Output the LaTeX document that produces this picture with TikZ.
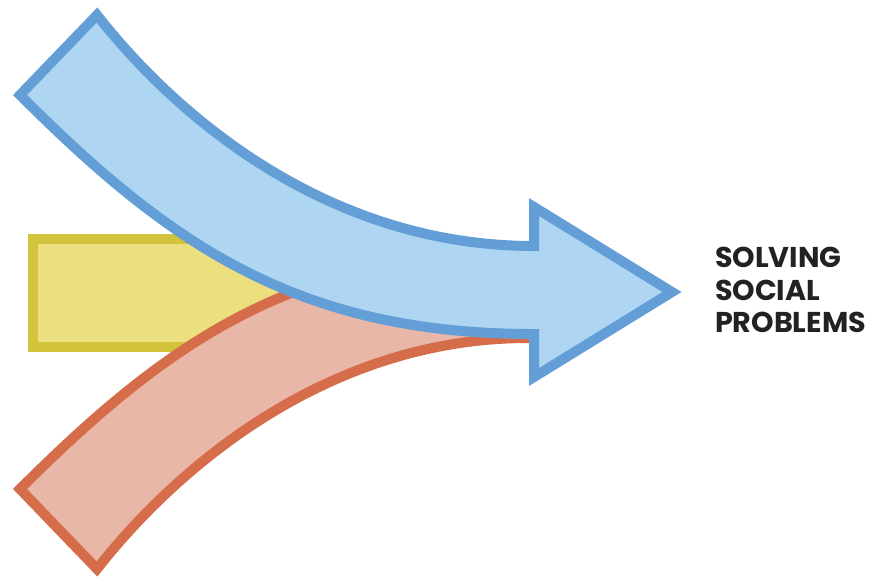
\documentclass[tikz,border=0pt]{standalone}
\usepackage{fontspec}
\setmainfont{Poppins}
\usetikzlibrary{positioning}
\definecolor{cblue}{HTML}{639ED6}
\definecolor{cbluefill}{HTML}{AED6F2}
\definecolor{cred}{HTML}{D56C4A}
\definecolor{credfill}{HTML}{E8B7A8}
\definecolor{cyellow}{HTML}{D2C33C}
\definecolor{cyellowfill}{HTML}{EBDF7F}
\definecolor{cink}{HTML}{222222}
\tikzset{
  every picture/.style={line width=0.2cm, line join=miter},
  band/.style={draw=#1, fill=#1fill},
  band/.default=cblue,
  goal/.style={font=\bfseries\fontsize{16.3}{19}\selectfont, text=cink, inner sep=0pt, anchor=base west},
}

\begin{document}
\begin{tikzpicture}[x=0.02cm, y=-0.02cm]
  \useasboundingbox (0,0) rectangle (878,579);
  % yellow box, mostly hidden behind the two bands
  \draw[band=cyellow] (33,239) rectangle (380,347);
  % red band coming up from below
  \draw[band=cred] (20,489) .. controls (170,339) and (298,252) .. (528,252) -- (540,252)
    -- (540,338) -- (528,338) .. controls (328,338) and (177,467) .. (97,569) -- cycle;
  % blue arrow coming down from above
  \draw[band=cblue] (20,95) .. controls (170,245) and (298,334) .. (534,334) -- (534,377)
    -- (672,292) -- (534,207) -- (534,246) .. controls (328,246) and (177,117) .. (97,15) -- cycle;
  % label
  \node[goal] (l1) at (710,267) {SOLVING};
  \node[goal] (l2) at (710,300) {SOCIAL};
  \node[goal] (l3) at (710,332) {PROBLEMS};
\end{tikzpicture}
\end{document}
